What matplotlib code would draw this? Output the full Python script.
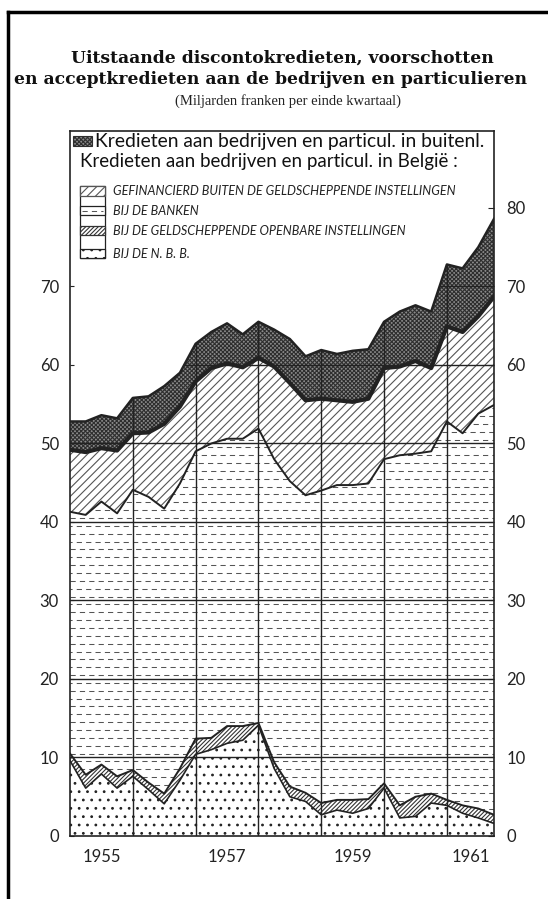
import numpy as np
import matplotlib.pyplot as plt
from matplotlib.patches import Rectangle
from matplotlib.lines import Line2D

plt.rcParams['font.family'] = ['Lato', 'DejaVu Sans']
plt.rcParams['hatch.linewidth'] = 0.8

# einde kwartaal: 1954-IV t/m 1961-III
kwartalen = np.arange(1955.0, 1961.76, 0.25)

nbb = [9.6, 6.1, 7.9, 6.1, 7.6, 5.9, 4.1, 7.1, 10.4, 11.0, 11.8, 12.2, 14.1, 8.6,
       5.0, 4.4, 2.7, 3.3, 2.9, 3.5, 6.1, 2.3, 2.5, 4.2, 3.9, 2.9, 2.3, 1.6]
openbare = [0.9, 1.7, 1.2, 1.5, 0.8, 0.9, 1.3, 1.5, 2.0, 1.5, 2.2, 1.8, 0.3, 0.8,
            1.3, 1.1, 1.5, 1.3, 1.7, 1.2, 0.6, 1.6, 2.5, 1.2, 0.7, 1.0, 1.2, 1.1]
banken = [30.8, 33.1, 33.5, 33.5, 35.7, 36.4, 36.3, 36.3, 36.6, 37.5, 36.6, 36.6, 37.5, 38.6,
          38.9, 37.9, 39.8, 40.1, 40.1, 40.2, 41.3, 44.6, 43.7, 43.6, 48.2, 47.4, 50.3, 52.2]
buiten = [7.9, 8.0, 6.8, 8.0, 7.2, 8.2, 10.8, 9.8, 8.9, 9.6, 9.6, 9.1, 9.0, 11.8,
          12.5, 12.1, 11.7, 10.8, 10.6, 10.8, 11.6, 11.3, 11.8, 10.6, 12.1, 12.9, 12.4, 13.8]
buitenland = [3.6, 3.9, 4.2, 4.1, 4.5, 4.6, 4.8, 4.3, 4.8, 4.6, 5.1, 4.2, 4.6, 4.7,
              5.6, 5.6, 6.2, 5.9, 6.5, 6.3, 5.9, 7.0, 7.1, 7.2, 7.9, 8.1, 8.8, 9.9]

jaren = ['1955', '1957', '1959', '1961']

W, H = 548, 899
fig = plt.figure(figsize=(W / 100, H / 100), dpi=100)


def fx(px):
    return px / W


def fy(py):
    return 1 - py / H


ax = fig.add_axes([fx(70), fy(836), fx(494) - fx(70), fy(131) - fy(836)])
ax.set_xlim(1955, 1961.75)
ax.set_ylim(0, 89.8)

x = kwartalen
lagen = np.cumsum([nbb, openbare, banken, buiten, buitenland], axis=0)

# patronen
p_nbb = dict(facecolor='white', edgecolor='#222222', hatch='..')
p_open = dict(facecolor='white', edgecolor='#333333', hatch='////////')
p_buiten = dict(facecolor='white', edgecolor='#555555', hatch='////')
p_buitenl = dict(facecolor='#8a8a8a', edgecolor='#2e2e2e', hatch='xxxxxxxx')

# vlakken
ax.fill_between(x, 0, lagen[0], lw=0, zorder=1, **p_nbb)
ax.fill_between(x, lagen[0], lagen[1], lw=0, zorder=1, **p_open)
f_bank = ax.fill_between(x, lagen[1], lagen[2], facecolor='white', lw=0, zorder=1)
ax.fill_between(x, lagen[2], lagen[3], lw=0, zorder=1, **p_buiten)
ax.fill_between(x, lagen[3], lagen[4], lw=0, zorder=1, **p_buitenl)
f_tot = ax.fill_between(x, 0, lagen[4], facecolor='none', lw=0, zorder=0)

# streepjes voor de banken
bank_pad = f_bank.get_paths()[0]
for k, yy in enumerate(np.arange(0.5, 80, 1.0)):
    ln, = ax.plot([1955, 1961.75], [yy, yy], color='#555555', lw=0.75,
                  ls=(3.0 * (k % 2), (5, 4)), zorder=1.5)
    ln.set_clip_path(bank_pad, ax.transData)

# raster, alleen binnen de vlakken
tot_pad = f_tot.get_paths()[0]
for yy in range(10, 90, 10):
    ln = ax.axhline(yy, color='#222222', lw=1.0, zorder=2)
    ln.set_clip_path(tot_pad, ax.transData)
for xx in range(1956, 1962):
    ln = ax.axvline(xx, color='#222222', lw=1.0, zorder=2)
    ln.set_clip_path(tot_pad, ax.transData)

# grenslijnen
ax.plot(x, lagen[0], color='#222222', lw=1.2, zorder=3)
ax.plot(x, lagen[1], color='#222222', lw=1.4, zorder=3)
ax.plot(x, lagen[2], color='#222222', lw=1.4, zorder=3)
ax.plot(x, lagen[3], color='#222222', lw=3.0, zorder=3)
ax.plot(x, lagen[4], color='#222222', lw=1.8, zorder=3)

for s in ax.spines.values():
    s.set_linewidth(1.2)
    s.set_color('#222222')

ax.set_yticks(range(0, 80, 10))
ax.tick_params(axis='y', direction='in', length=3, pad=8, labelsize=12, colors='#222222')
ax.set_xticks([1955.5, 1957.5, 1959.5, 1961.375])
ax.set_xticklabels(jaren)
ax.tick_params(axis='x', length=0, pad=9, labelsize=12, colors='#222222')

ax2 = ax.twinx()
ax2.set_ylim(0, 89.8)
ax2.set_yticks(range(0, 90, 10))
ax2.tick_params(axis='y', direction='in', length=4, pad=9, labelsize=12, colors='#222222')
for s in ax2.spines.values():
    s.set_visible(False)

# legende
r = fig.canvas.get_renderer()


def pas_tekst(t, breedte):
    w = t.get_window_extent(r).width
    t.set_fontsize(t.get_fontsize() * breedte / w)


def vak(x0, y0, x1, y1, **kw):
    fig.patches.append(Rectangle((fx(x0), fy(y1)), fx(x1) - fx(x0), fy(y0) - fy(y1),
                                 transform=fig.transFigure, **kw))


vak(73, 136, 92, 146, lw=0.8, **p_buitenl)
t1 = fig.text(fx(95), fy(141), 'Kredieten aan bedrijven en particul. in buitenl.',
              va='center', ha='left', fontsize=12, color='#111111')
pas_tekst(t1, 388)
t2 = fig.text(fx(80), fy(162), 'Kredieten aan bedrijven en particul. in België :',
              va='center', ha='left', fontsize=12, color='#111111')
pas_tekst(t2, 377)

vak(80, 186, 105, 258, facecolor='white', edgecolor='#222222', lw=0.9)
vak(80, 186, 105, 196, lw=0.9, **p_buiten)
vak(80, 206, 105, 215, facecolor='white', edgecolor='#222222', lw=0.9)
fig.lines.append(Line2D([fx(82), fx(103)], [fy(210.5), fy(210.5)], transform=fig.transFigure,
                        color='#555555', lw=0.75, ls=(0, (5, 4))))
vak(80, 226, 105, 235, lw=0.9, **p_open)
vak(80, 249, 105, 258, lw=0.9, **p_nbb)

klein = dict(va='center', ha='left', fontsize=8, style='italic', color='#222222')
t3 = fig.text(fx(113), fy(191), 'GEFINANCIERD BUITEN DE GELDSCHEPPENDE INSTELLINGEN', **klein)
pas_tekst(t3, 344)
klein['fontsize'] = t3.get_fontsize()
fig.text(fx(113), fy(211), 'BIJ DE BANKEN', **klein)
fig.text(fx(113), fy(231), 'BIJ DE GELDSCHEPPENDE OPENBARE INSTELLINGEN', **klein)
fig.text(fx(113), fy(254), 'BIJ DE N. B. B.', **klein)

# titel
titel = dict(ha='center', va='center', family='DejaVu Serif', weight='bold', color='#111111')
t_onder = fig.text(fx(270), fy(80), 'en acceptkredieten aan de bedrijven en particulieren',
                   fontsize=11, **titel)
pas_tekst(t_onder, 508)
fig.text(fx(282), fy(58), 'Uitstaande discontokredieten, voorschotten',
         fontsize=t_onder.get_fontsize(), **titel)
fig.text(fx(288), fy(101), '(Miljarden franken per einde kwartaal)', ha='center', va='center',
         family='Liberation Serif', fontsize=10.5, color='#222222')

# kader
fig.lines.append(Line2D([fx(8), fx(8)], [fy(12), 0], transform=fig.transFigure, color='black', lw=2.5))
fig.lines.append(Line2D([fx(8), 1], [fy(12), fy(12)], transform=fig.transFigure, color='black', lw=2.5))

fig.savefig('out.png', dpi=100)
